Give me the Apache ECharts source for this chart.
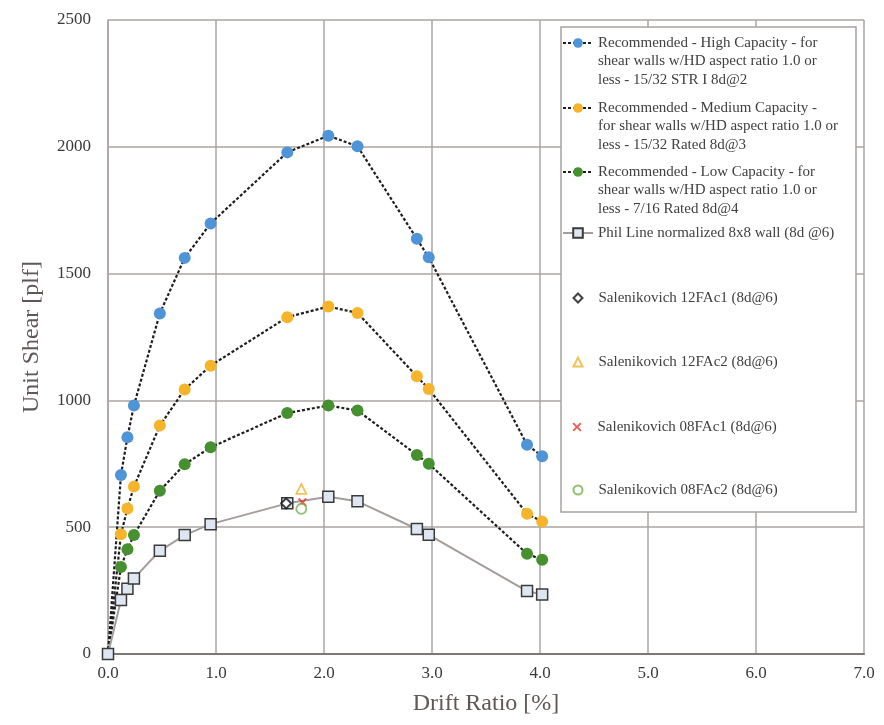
<!DOCTYPE html>
<html>
<head>
<meta charset="utf-8">
<script src="https://cdn.jsdelivr.net/npm/echarts@6/dist/echarts.min.js"></script>
<style>
html,body{margin:0;padding:0;background:#fff;}
#c{width:884px;height:725px;}
</style>
</head>
<body>
<div id="c"></div>
<script>
// ---- data ----
const driftRatio = [0, 0.12, 0.18, 0.24, 0.48, 0.71, 0.95, 1.66, 2.04, 2.31, 2.86, 2.97, 3.88, 4.02];
const highCapacity = [0, 706, 855, 980, 1343, 1562, 1698, 1978, 2044, 2002, 1637, 1564, 825, 780];
const mediumCapacity = [0, 472, 574, 660, 901, 1043, 1137, 1328, 1370, 1345, 1095, 1045, 553, 522];
const lowCapacity = [0, 343, 413, 469, 644, 748, 815, 950, 980, 960, 785, 750, 395, 372];
const philLine = [0, 213, 257, 298, 407, 469, 512, 594, 620, 602, 493, 470, 248, 235];
const salX = [1.65, 1.79, 1.80, 1.79];
const salY = [594, 651, 598, 572];
const seriesNames = [
  'Recommended - High Capacity - for\nshear walls w/HD aspect ratio 1.0 or\nless - 15/32 STR I 8d@2',
  'Recommended - Medium Capacity -\nfor shear walls w/HD aspect ratio 1.0 or\nless - 15/32 Rated 8d@3',
  'Recommended - Low Capacity - for\nshear walls w/HD aspect ratio 1.0 or\nless - 7/16 Rated 8d@4',
  'Phil Line normalized 8x8 wall (8d @6)',
  'Salenikovich 12FAc1 (8d@6)',
  'Salenikovich 12FAc2 (8d@6)',
  'Salenikovich 08FAc1 (8d@6)',
  'Salenikovich 08FAc2 (8d@6)'
];
const xTicks = {min: 0, max: 7, interval: 1};
const yTicks = {min: 0, max: 2500, interval: 500};

// ---- styling ----
const FONT = '"Liberation Serif", "Times New Roman", serif';
const GRID_C = '#aaa4a2';
const LH = 18.5;
const legendFirstLine = [43, 108, 172, 233, 298, 362, 427, 490];
const X_PATH = 'path://M0,1.5 L1.5,0 L5,3.5 L8.5,0 L10,1.5 L6.5,5 L10,8.5 L8.5,10 L5,6.5 L1.5,10 L0,8.5 L3.5,5 Z';
const scatterIcons = ['diamond', 'triangle', X_PATH, 'circle'];

function pairs(xs, ys) { return xs.map((x, i) => [x, ys[i]]); }

const dashLine = {color: '#1e1e1e', width: 2.2, type: [3, 2]};
const series = [
  {name: seriesNames[0], type: 'line', data: pairs(driftRatio, highCapacity), symbol: 'circle', symbolSize: 12,
   itemStyle: {color: '#4f94d6'}, lineStyle: dashLine, z: 2},
  {name: seriesNames[1], type: 'line', data: pairs(driftRatio, mediumCapacity), symbol: 'circle', symbolSize: 12,
   itemStyle: {color: '#f6b42a'}, lineStyle: dashLine, z: 2},
  {name: seriesNames[2], type: 'line', data: pairs(driftRatio, lowCapacity), symbol: 'circle', symbolSize: 12,
   itemStyle: {color: '#46902f'}, lineStyle: dashLine, z: 2},
  {name: seriesNames[3], type: 'line', data: pairs(driftRatio, philLine), symbol: 'rect', symbolSize: 11,
   itemStyle: {color: '#dde6f1', borderColor: '#3a3a3a', borderWidth: 1.5},
   lineStyle: {color: '#a39d9b', width: 2}, z: 3},
  {name: seriesNames[4], type: 'scatter', data: [[salX[0], salY[0]]], symbol: scatterIcons[0], symbolSize: 10,
   symbolKeepAspect: true,
   itemStyle: {color: '#ffffff', borderColor: '#111111', borderWidth: 2}, z: 4},
  {name: seriesNames[5], type: 'scatter', data: [[salX[1], salY[1]]], symbol: scatterIcons[1], symbolSize: 10,
   symbolKeepAspect: true,
   itemStyle: {color: '#ffffff', borderColor: '#f0b030', borderWidth: 1.8}, z: 4},
  {name: seriesNames[6], type: 'scatter', data: [[salX[2], salY[2]]], symbol: scatterIcons[2], symbolSize: 9,
   symbolKeepAspect: true,
   itemStyle: {color: '#e8332a'}, z: 4},
  {name: seriesNames[7], type: 'scatter', data: [[salX[3], salY[3]]], symbol: scatterIcons[3], symbolSize: 10,
   symbolKeepAspect: true,
   itemStyle: {color: '#ffffff', borderColor: '#74b04a', borderWidth: 1.8}, z: 4}
];

const legends = seriesNames.map((n, i) => {
  const multi = n.indexOf('\n') >= 0;
  const isLine = i < 4;
  const base = {
    data: [n],
    orient: 'vertical',
    padding: 0,
    itemGap: 5,
    selectedMode: false,
    z: 6,
    formatter: function (name) { return name.indexOf('\n') >= 0 ? '\n\n' + name : name; }
  };
  if (isLine) {
    return Object.assign(base, {
      left: 562,
      top: multi ? legendFirstLine[i] - 2.5 * LH : legendFirstLine[i] - LH / 2,
      itemWidth: 30, itemHeight: 12,
      textStyle: {fontFamily: FONT, fontSize: 15, color: '#404040', lineHeight: LH}
    });
  }
  return Object.assign(base, {
    left: 572.5,
    top: legendFirstLine[i] - LH / 2,
    icon: scatterIcons[i - 4],
    itemWidth: 9, itemHeight: 9,
    textStyle: {fontFamily: FONT, fontSize: 15, color: '#404040', lineHeight: LH, padding: [0, 0, 0, 11]}
  });
});

const option = {
  backgroundColor: '#ffffff',
  animation: false,
  grid: {left: 108, right: 20, top: 20, bottom: 71, containLabel: false},
  xAxis: {
    type: 'value', min: xTicks.min, max: xTicks.max, interval: xTicks.interval,
    name: 'Drift Ratio [%]', nameLocation: 'middle', nameGap: 38,
    nameTextStyle: {fontFamily: FONT, fontSize: 24, color: '#5e5856'},
    axisLine: {show: true, onZero: false, lineStyle: {color: '#7d7775', width: 2}},
    axisTick: {show: false},
    axisLabel: {fontFamily: FONT, fontSize: 17, color: '#3a3a3a', margin: 11,
      formatter: v => v.toFixed(1)},
    splitLine: {show: true, lineStyle: {color: GRID_C, width: 1.5}}
  },
  yAxis: {
    type: 'value', min: yTicks.min, max: yTicks.max, interval: yTicks.interval,
    name: 'Unit Shear [plf]', nameLocation: 'middle', nameGap: 64,
    nameTextStyle: {fontFamily: FONT, fontSize: 24, color: '#5e5856'},
    axisLine: {show: true, lineStyle: {color: GRID_C, width: 1.5}},
    axisTick: {show: false},
    axisLabel: {fontFamily: FONT, fontSize: 17, color: '#3a3a3a', margin: 17,
      formatter: v => String(v)},
    splitLine: {show: true, lineStyle: {color: GRID_C, width: 1.5}}
  },
  graphic: [{
    type: 'rect', z: 5,
    shape: {x: 561, y: 27, width: 295, height: 485},
    style: {fill: '#ffffff', stroke: '#a8a2a0', lineWidth: 1.5}
  }],
  legend: legends,
  series: series
};

const chart = echarts.init(document.getElementById('c'), null, {renderer: 'canvas'});
chart.setOption(option);
</script>
</body>
</html>
